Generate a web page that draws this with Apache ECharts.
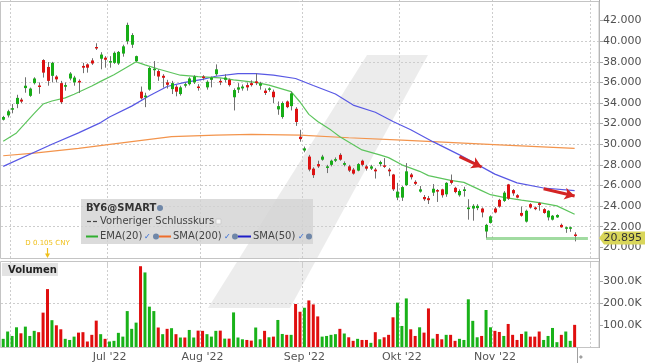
<!DOCTYPE html>
<html><head><meta charset="utf-8">
<script src="https://cdn.jsdelivr.net/npm/echarts@6.0.0/dist/echarts.min.js"></script>
<style>html,body{margin:0;padding:0;background:#fff}#c{width:645px;height:363px}</style>
</head><body><div id="c"></div>
<script>
// ---- data ----
const openP = [32.38,32.8,33.35,33.9,34.33,35.45,34.7,35.93,35.7,38.17,
37.5,36.64,36.57,35.93,35.58,36.38,36.0,36.15,37.6,37.75,
38.13,39.44,38.3,38.4,37.98,37.9,37.84,38.8,39.99,39.66,
38.07,35.1,34.56,35.3,37.2,37.1,36.64,36.0,35.35,35.58,
34.87,35.68,35.83,36.0,35.6,36.57,35.52,36.25,36.8,36.15,
36.25,36.25,34.56,35.3,35.42,35.74,35.93,36.1,35.68,35.2,
35.3,35.1,33.38,32.64,34.15,33.7,33.44,30.73,29.39,28.8,
27.63,28.07,28.5,27.7,28.0,28.4,28.97,28.0,27.85,27.54,
27.44,28.4,27.85,27.63,27.54,28.07,27.95,27.54,27.06,24.82,
24.82,26.03,27.06,26.35,25.4,24.88,24.76,25.3,25.55,25.62,
25.14,26.5,25.77,25.05,25.46,23.7,23.76,23.8,23.76,21.53,
22.36,23.76,24.6,24.5,26.1,25.55,25.05,23.33,22.49,24.18,
23.86,24.28,23.7,22.9,22.68,22.9,22.17,21.85,21.85,21.24];
const closeP = [32.64,33.2,33.5,34.5,34.14,35.68,35.4,36.38,35.6,36.95,
36.15,37.9,36.3,34.08,35.74,36.86,36.47,36.0,37.43,37.43,
37.84,39.38,38.7,38.2,38.07,38.87,38.96,39.5,41.58,40.6,
38.55,34.46,34.72,37.4,37.33,36.57,36.45,35.77,35.93,35.1,
35.52,35.83,36.38,36.57,35.49,36.45,36.06,36.47,37.27,36.06,
36.47,35.74,35.26,35.52,35.6,35.52,35.74,35.93,35.9,34.97,
35.42,34.56,33.7,34.0,33.6,34.94,32.16,30.5,29.6,27.54,
27.0,27.85,28.8,27.85,28.4,28.55,28.5,28.17,27.44,27.15,
28.07,28.0,27.63,27.85,27.37,28.27,27.83,27.37,25.62,25.4,
25.84,27.37,26.8,26.16,25.62,24.66,24.57,25.68,25.46,25.05,
26.25,26.25,25.36,25.46,25.62,23.86,24.02,24.02,23.38,22.17,
23.0,23.38,23.95,25.3,24.72,25.23,24.82,23.06,23.54,23.86,
23.7,24.1,23.33,23.54,23.06,23.13,21.94,21.94,21.94,21.15];
const lowP = [32.3,32.6,33.0,33.5,34.0,35.0,34.6,35.8,34.9,36.47,
35.68,36.0,36.0,33.9,35.2,36.2,35.68,34.97,36.9,36.95,
37.7,39.15,37.27,37.43,37.43,37.8,37.7,38.5,39.7,39.35,
37.98,34.34,33.6,35.2,36.64,36.15,35.5,35.4,34.87,34.65,
34.72,35.5,35.7,35.85,35.2,36.2,35.3,35.52,36.64,35.74,
36.0,35.6,33.28,34.97,35.2,35.2,35.6,35.74,35.3,34.78,
35.1,34.0,32.86,32.48,33.5,33.28,31.78,30.25,29.22,27.37,
26.73,27.7,28.4,27.2,27.85,28.27,28.4,27.85,27.3,27.05,
27.37,27.85,27.44,27.5,26.67,27.85,27.7,26.9,25.46,24.57,
24.5,25.94,26.58,26.03,25.3,24.5,24.2,24.98,24.4,24.82,
24.9,26.1,25.24,24.91,24.91,22.68,22.58,23.6,22.9,20.88,
22.3,23.3,23.85,24.4,24.6,25.0,24.75,22.97,22.4,23.75,
23.6,23.55,23.25,22.6,22.6,22.85,21.9,21.4,21.5,20.57];
const highP = [32.75,33.35,33.9,34.8,34.5,36.5,35.5,36.5,36.0,38.25,
37.98,38.0,36.7,36.15,36.0,37.0,36.64,36.3,37.9,37.85,
38.35,39.8,38.93,38.55,38.55,39.0,39.05,39.66,41.8,40.78,
38.6,35.6,35.0,37.5,38.07,37.27,36.8,36.25,36.15,35.74,
35.68,36.0,36.5,36.7,35.83,36.7,36.2,36.57,37.75,36.38,
36.8,36.38,35.42,35.93,35.8,36.0,36.2,36.88,36.06,35.42,
35.52,35.3,34.15,34.15,34.24,35.1,33.6,31.4,29.77,28.97,
27.76,28.4,28.97,28.0,28.5,28.72,29.13,28.33,28.0,27.7,
28.17,28.5,28.0,28.0,27.7,28.4,28.65,27.7,27.12,26.25,
25.94,28.17,27.2,26.5,25.94,25.07,24.98,26.13,25.65,25.68,
26.32,27.06,25.87,25.62,25.87,24.66,24.18,24.18,23.86,22.27,
23.1,23.9,24.7,25.45,26.15,25.65,25.15,23.95,23.65,24.28,
23.95,24.4,23.8,23.6,23.13,23.2,22.3,22.0,22.0,21.45];
const volumeK = [39,72,52,91,64,94,52,75,69,157, 263,123,100,82,39,34,49,67,69,27,
57,121,60,39,27,30,66,49,164,84, 112,366,338,184,164,90,60,84,87,60,
45,45,79,45,76,75,60,49,75,76, 40,40,158,45,37,34,31,90,37,75,
46,49,124,61,57,57,196,161,179,212, 194,140,49,52,57,60,84,63,46,30,
39,34,34,21,69,37,46,57,136,202, 97,221,82,52,91,67,176,40,61,37,
57,57,30,39,34,217,120,46,52,169, 91,75,70,52,106,57,34,61,72,49,
49,72,34,52,88,24,57,72,30,102];
const volumeUp = [1,1,1,1,0,1,1,1,0,0, 0,1,0,0,1,1,1,0,0,0, 0,0,1,0,1,1,1,1,1,1,
1,0,1,1,1,0,1,0,1,0, 1,0,1,1,0,0,1,1,1,0, 1,0,1,1,1,0,0,1,1,0,
1,0,1,1,0,1,0,0,1,0, 0,0,1,1,1,1,0,1,0,0, 1,0,0,1,0,1,0,0,0,1,
1,1,0,0,1,0,0,1,0,0, 1,0,0,1,1,1,1,1,0,1, 1,0,0,1,0,0,0,0,1,0,
0,0,1,1,1,1,0,1,1,0];
const ema20Idx = [0,3,7,9,11,14,16,20,22,25,28,30,32,35,40,44,49,52,57,60,65,67,69,71,74,76,81,85,87,90,94,96,101,104,108,110,113,117,121,125,129];
const ema20Val = [30.3,31.1,33.0,33.9,34.2,34.5,34.85,35.65,36.1,36.75,37.5,38.0,37.7,37.3,36.7,36.57,36.45,36.25,36.0,35.74,35.1,34.1,32.9,32.2,31.37,30.73,29.45,28.97,28.7,28.0,27.37,26.95,26.5,26.3,25.5,25.1,24.85,24.57,24.34,24.02,23.2];
const sma50Idx = [0,11,17,22,24,29,33,37,41,45,48,53,57,61,66,70,75,79,84,88,92,97,103,108,111,116,122,129];
const sma50Val = [27.85,30.0,31.1,32.1,32.64,33.7,34.7,35.6,36.0,36.3,36.6,36.86,36.86,36.7,36.38,35.7,34.87,33.8,33.1,32.2,31.4,30.25,28.97,27.8,27.1,26.25,25.75,25.5];
const sma200Idx = [0,7,17,29,38,48,56,67,78,90,112,129];
const sma200Val = [28.88,29.13,29.6,30.25,30.73,30.89,30.95,30.89,30.63,30.4,29.93,29.6];
const lastPrice = 20.895;
const supportLine = [[109, 20.895], [132, 20.895]];
const arrow1 = [[103.4, 28.8], [108.4, 27.79]];
const arrow2 = [[122.1, 25.68], [128.7, 24.98]];
const dividendIdx = 10;
const dividendText = 'D 0.105 CNY';
const monthNames = {7:"Jul '22", 8:"Aug '22", 9:"Sep '22", 10:"Okt '22", 11:"Nov '22"};
const priceTicks = [20,22,24,26,28,30,32,34,36,38,40,42];
const volTicks = [100000,200000,300000];

// categories: trading days (weekdays) from 30 May 2022
const N = 135;
const cats = [];
(function(){ const d = new Date(Date.UTC(2022,4,30)); while (cats.length < N) { const w = d.getUTCDay(); if (w !== 0 && w !== 6) cats.push(d.toISOString().slice(0,10)); d.setUTCDate(d.getUTCDate()+1);} })();
const monthStart = new Set(); const labelAt = {};
cats.forEach((c,i)=>{ if (i>0 && c.slice(5,7) !== cats[i-1].slice(5,7)) { monthStart.add(i); const m = +c.slice(5,7); if (monthNames[m]) labelAt[i] = monthNames[m]; } });

const GREEN = '#17ad17', RED = '#dd1111';
const FONT = 'DejaVu Sans';
const candleData = openP.map((o,i)=>[i, o, closeP[i], lowP[i], highP[i]]);
const pairs = (a,b)=>a.map((x,i)=>[x,b[i]]);

function renderCandle(params, api) {
  const i = api.value(0), o = api.value(1), c = api.value(2), l = api.value(3), h = api.value(4);
  const pO = api.coord([i,o]), pC = api.coord([i,c]), pL = api.coord([i,l]), pH = api.coord([i,h]);
  const x = Math.round(pO[0]) + 0.5;
  const top = Math.min(pO[1], pC[1]);
  const hgt = Math.max(1.5, Math.abs(pO[1]-pC[1]));
  return {type:'group', children:[
    {type:'line', shape:{x1:x,y1:pH[1],x2:x,y2:pL[1]}, style:{stroke:'#707070', lineWidth:1}},
    {type:'rect', shape:{x:x-1.5,y:top,width:3,height:hgt}, style:{fill: c>=o ? GREEN : RED}}
  ]};
}

const gridLine = {show:true, interval:(i)=>monthStart.has(i), lineStyle:{color:'#cdcdcd', type:[2,2], width:1}};
const chart = echarts.init(document.getElementById('c'));
chart.setOption({
  animation:false,
  grid:[{left:1, width:598, top:-3.58, height:271.44}, {left:1, width:598, top:262, height:85.5}],
  xAxis:[
    {type:'category', gridIndex:0, data:cats, axisLine:{show:false}, axisTick:{show:false}, axisLabel:{show:false}, splitLine:gridLine},
    {type:'category', gridIndex:1, data:cats, axisLine:{show:false}, axisTick:{show:false},
     axisLabel:{interval:(i)=>labelAt[i]!==undefined, formatter:(v,i)=>labelAt[i]||'', color:'#555', fontSize:11, fontFamily:FONT, margin:4},
     splitLine:gridLine}
  ],
  yAxis:[
    {type:'value', gridIndex:0, position:'right', min:18, max:44, interval:2,
     axisLine:{show:true, lineStyle:{color:'#a8a8a8'}},
     axisTick:{show:true, length:4, customValues:priceTicks, lineStyle:{color:'#a8a8a8'}},
     axisLabel:{formatter:(v)=>(v<19||v>43)?'':v.toFixed(3), color:'#505050', fontSize:11, fontFamily:FONT, margin:4},
     splitLine:{show:true, showMinLine:false, showMaxLine:false, lineStyle:{color:'#cdcdcd', type:[2,2]}}},
    {type:'value', gridIndex:1, position:'right', min:0, max:385000, interval:100000,
     axisLine:{show:true, lineStyle:{color:'#a8a8a8'}},
     axisTick:{show:true, length:4, customValues:volTicks, lineStyle:{color:'#a8a8a8'}},
     axisLabel:{formatter:(v)=>(v===0||v%100000)?'':(v/1000).toFixed(1)+'K', color:'#505050', fontSize:11, fontFamily:FONT, margin:4},
     splitLine:{show:true, showMinLine:false, showMaxLine:false, lineStyle:{color:'#cdcdcd', type:[2,2]}}}
  ],
  series:[
    {type:'line', name:'SMA200', xAxisIndex:0, yAxisIndex:0, data:pairs(sma200Idx,sma200Val), showSymbol:false, lineStyle:{color:'#f3944c', width:1.2}, z:2},
    {type:'line', name:'SMA50', xAxisIndex:0, yAxisIndex:0, data:pairs(sma50Idx,sma50Val), showSymbol:false, lineStyle:{color:'#5858e4', width:1.2}, z:2},
    {type:'line', name:'EMA20', xAxisIndex:0, yAxisIndex:0, data:pairs(ema20Idx,ema20Val), showSymbol:false, lineStyle:{color:'#5cc45c', width:1.2}, z:2,
     markLine:{silent:true, animation:false, label:{show:false}, data:[
       [{coord:supportLine[0], symbol:'none', lineStyle:{color:'rgba(110,200,110,0.65)', width:3, type:'solid'}}, {coord:supportLine[1], symbol:'none'}],
       [{coord:arrow1[0], symbol:'none', lineStyle:{color:'#d42424', width:3, type:'solid'}}, {coord:arrow1[1], symbol:'arrow', symbolSize:[9,10]}],
       [{coord:arrow2[0], symbol:'none', lineStyle:{color:'#d42424', width:3, type:'solid'}}, {coord:arrow2[1], symbol:'arrow', symbolSize:[9,10]}]
     ]}},
    {type:'custom', name:'Kurs', xAxisIndex:0, yAxisIndex:0, data:candleData, encode:{x:0, y:[1,2,3,4]}, renderItem:renderCandle, z:3},
    {type:'bar', name:'Volumen', xAxisIndex:1, yAxisIndex:1, barWidth:3,
     data:volumeK.map((v,i)=>({value:v*1000, itemStyle:{color: volumeUp[i] ? '#19b219' : '#e00e0e'}})), z:3}
  ]
});

// decorations positioned through the chart's own scales
const px = (i)=>chart.convertToPixel({xAxisIndex:0}, cats[i]);
const py = (v)=>chart.convertToPixel({yAxisIndex:0}, v);
const yLast = py(lastPrice);
const xDiv = px(dividendIdx);
const xNow = (px(129)+px(130))/2;
const legendY = [208, 221.5, 236.5];
const g = [];
g.push({type:'polygon', shape:{points:[[367,55],[428,55],[290,308],[208,308]]}, style:{fill:'rgba(0,0,0,0.075)'}, z:-1, silent:true});
g.push({type:'rect', shape:{x:1.5,y:258.5,width:597,height:3}, style:{fill:'#fff'}, z:20});
g.push({type:'rect', shape:{x:0.5,y:1.5,width:598.5,height:257}, style:{fill:'none', stroke:'#c4c4c4', lineWidth:1}, z:21});
g.push({type:'rect', shape:{x:0.5,y:261.5,width:598.5,height:86}, style:{fill:'none', stroke:'#c4c4c4', lineWidth:1}, z:21});
g.push({type:'rect', shape:{x:2,y:263,width:56,height:13}, style:{fill:'#e3e3e3'}, z:22});
g.push({type:'text', x:8, y:270, style:{text:'Volumen', font:'bold 10px "DejaVu Sans"', fill:'#222', verticalAlign:'middle'}, z:23});
g.push({type:'rect', shape:{x:81,y:199,width:232,height:45}, style:{fill:'rgba(210,210,210,0.8)'}, z:22});
g.push({type:'text', x:86, y:legendY[0], style:{text:'BY6@SMART', font:'bold 10px "DejaVu Sans"', fill:'#333', verticalAlign:'middle'}, z:23});
g.push({type:'circle', shape:{cx:160, cy:legendY[0], r:3}, style:{fill:'#6f87a8'}, z:23});
g.push({type:'line', shape:{x1:87,y1:legendY[1],x2:91,y2:legendY[1]}, style:{stroke:'#444', lineWidth:1.2}, z:23});
g.push({type:'line', shape:{x1:93,y1:legendY[1],x2:97,y2:legendY[1]}, style:{stroke:'#444', lineWidth:1.2}, z:23});
g.push({type:'text', x:100, y:legendY[1], style:{text:'Vorheriger Schlusskurs', font:'10px "DejaVu Sans"', fill:'#444', verticalAlign:'middle'}, z:23});
g.push({type:'rect', shape:{x:216,y:legendY[1]-2.5,width:5,height:5}, style:{fill:'#f6f6f6', stroke:'#c8c8c8', lineWidth:0.8}, z:23});
const legItems = [
  {x:86, w:12, color:'#2fae2f', text:'EMA(20)', tx:100, ck:144, gl:156},
  {x:159, w:12, color:'#ee6d2a', text:'SMA(200)', tx:173, ck:224, gl:235},
  {x:238, w:13, color:'#1e1ec8', text:'SMA(50)', tx:253, ck:298, gl:309}
];
legItems.forEach(it=>{
  g.push({type:'line', shape:{x1:it.x,y1:legendY[2],x2:it.x+it.w,y2:legendY[2]}, style:{stroke:it.color, lineWidth:2}, z:23});
  g.push({type:'text', x:it.tx, y:legendY[2], style:{text:it.text, font:'10px "DejaVu Sans"', fill:'#444', verticalAlign:'middle'}, z:23});
  g.push({type:'text', x:it.ck, y:legendY[2]+0.5, style:{text:'✓', font:'bold 8px "DejaVu Sans"', fill:'#2b66d6', verticalAlign:'middle'}, z:23});
  g.push({type:'circle', shape:{cx:it.gl, cy:legendY[2], r:3}, style:{fill:'#6f87a8'}, z:23});
});
g.push({type:'text', x:xDiv, y:243.5, style:{text:dividendText, font:'7px "DejaVu Sans"', fill:'#f0c01a', align:'center', verticalAlign:'middle'}, z:23});
g.push({type:'line', shape:{x1:xDiv,y1:248,x2:xDiv,y2:254}, style:{stroke:'#f0c01a', lineWidth:1.2}, z:23});
g.push({type:'polygon', shape:{points:[[xDiv-2.5,253.5],[xDiv+2.5,253.5],[xDiv,258]]}, style:{fill:'#f0c01a'}, z:23});
g.push({type:'polygon', shape:{points:[[599,yLast],[604,yLast-6.5],[645,yLast-6.5],[645,yLast+6.5],[604,yLast+6.5]]}, style:{fill:'#d9d65a'}, z:24});
g.push({type:'text', x:603.5, y:yLast+0.5, style:{text:lastPrice.toFixed(3), font:'11px "DejaVu Sans"', fill:'#333', verticalAlign:'middle'}, z:25});
g.push({type:'line', shape:{x1:Math.round(xNow)+0.5,y1:347.5,x2:Math.round(xNow)+0.5,y2:363}, style:{stroke:'#a0a0a0', lineWidth:1}, z:23});
g.push({type:'polygon', shape:{points:[[xNow+4,355],[xNow+6,357],[xNow+4,359],[xNow+2,357]]}, style:{fill:'#a0a0a0'}, z:23});
chart.setOption({graphic:{elements:g}});
</script>
</body></html>
